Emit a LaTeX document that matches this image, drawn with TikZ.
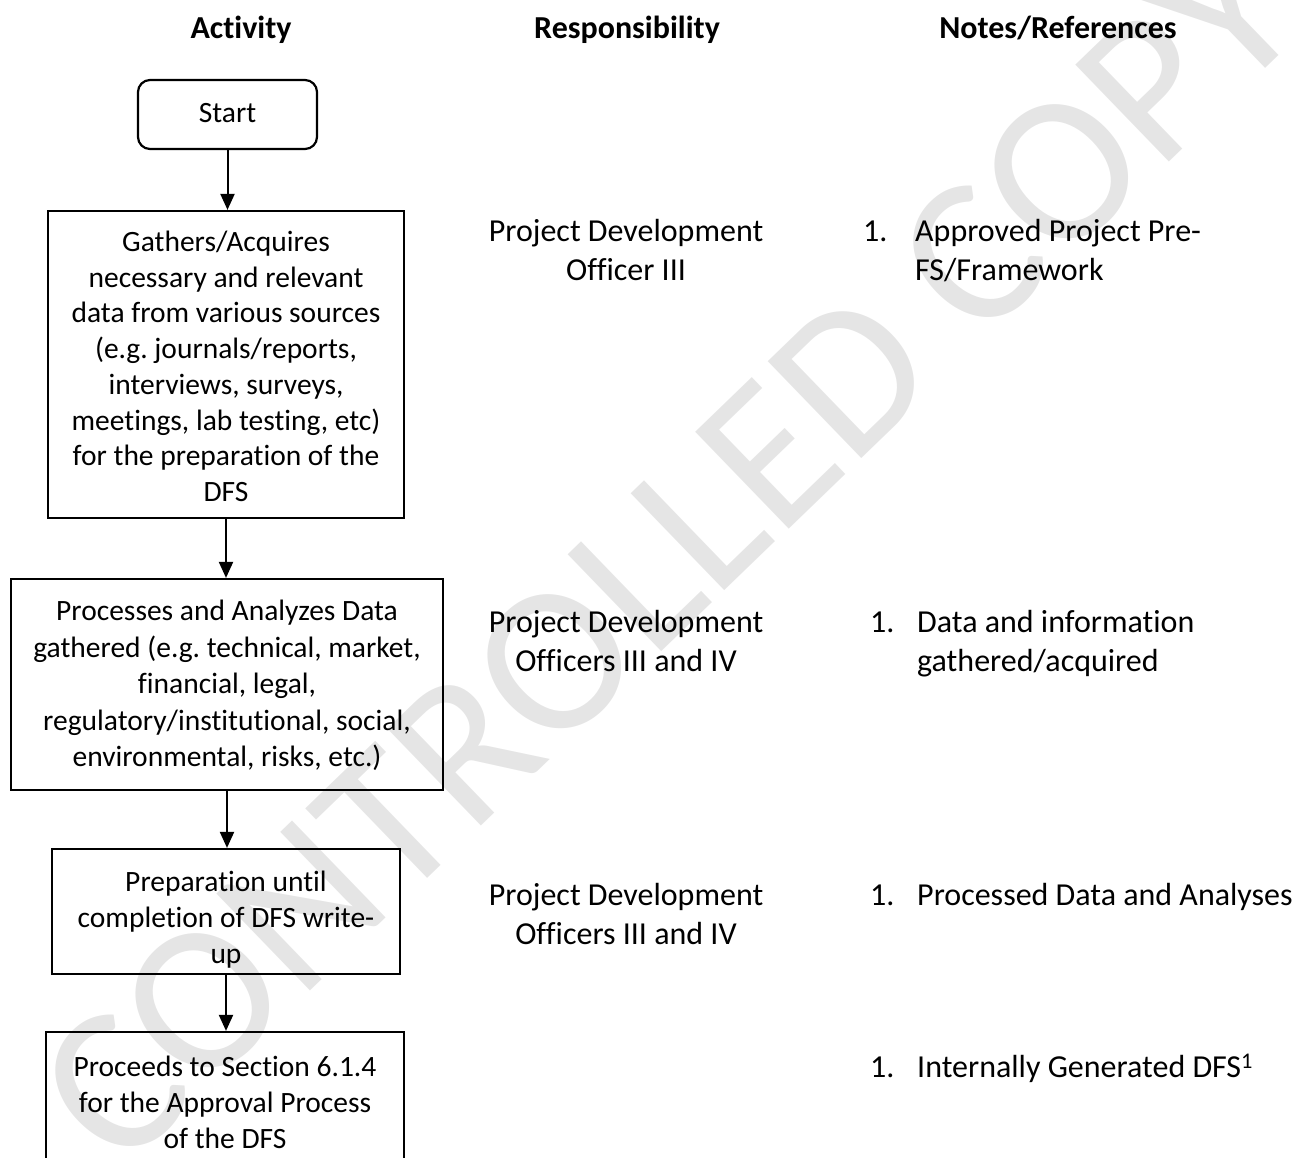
\documentclass[tikz,border=0pt]{standalone}
\usepackage{fontspec}
\setmainfont{Carlito}[Ligatures=NoCommon]
\usetikzlibrary{arrows.meta}
\newcommand\tstr{\rule{0pt}{30pt}}
\newcommand\bstr{\rule[-9.4pt]{0pt}{9.4pt}}
\newcommand\bt[1]{\rule{0pt}{#1pt}}
\newcommand\bb{\rule[-9.5pt]{0pt}{9.5pt}}
\frenchspacing
\begin{document}
\frenchspacing
\begin{tikzpicture}[x=1pt,y=-1pt,
  box/.style={draw, line width=2.2pt, inner sep=0pt, align=center},
  rtxt/.style={font=\fontsize{32}{39}\selectfont, inner sep=0pt},
  hdr/.style={font=\fontsize{32}{38}\selectfont\bfseries, inner sep=0pt, anchor=base},
  conn/.style={line width=2pt, -{Triangle[length=16pt,width=14pt]}},
  wm/.style={font=\fontsize{210}{210}\selectfont, text=black!10, rotate=44, inner sep=0pt}
]
\useasboundingbox (0,0) rectangle (1298,1157);
% watermark
\node[wm] (wm) at (668,552) {CONTROLLED COPY};
% headers
\node[hdr] (h1) at (241,38) {Activity};
\node[hdr] (h2) at (627,38) {Responsibility};
\node[hdr] (h3) at (1058,38) {Notes/References};
% activity boxes
\node[box, rounded corners=12pt, minimum width=179pt, minimum height=69pt,
  font=\fontsize{29.5}{36}\selectfont] (start) at (227.5,114.5) {\bt{25.5}Start\bb};
\node[box, minimum width=356pt, minimum height=307pt,
  font=\fontsize{29.5}{35.7}\selectfont] (b1) at (226,364.5)
  {\bt{33.5}Gathers/Acquires\\ necessary and relevant\\ data from various sources\\ (e.g. journals/reports,\\ interviews, surveys,\\ meetings, lab testing, etc)\\ for the preparation of the\\ DFS\bb};
\node[box, minimum width=432pt, minimum height=211pt,
  font=\fontsize{29.5}{36.5}\selectfont] (b2) at (227,684.5)
  {\bt{27.5}Processes and Analyzes Data\\ gathered (e.g. technical, market,\\ financial, legal,\\ regulatory/institutional, social,\\ environmental, risks, etc.)\bb};
\node[box, minimum width=348pt, minimum height=125pt,
  font=\fontsize{29.5}{36}\selectfont] (b3) at (226,911.5)
  {\bt{41.5}Preparation until\\ completion of DFS write-\\ up\bb};
\node[box, minimum width=358pt, minimum height=142pt,
  font=\fontsize{29.5}{36}\selectfont] (b4) at (225,1103)
  {\bt{28.5}Proceeds to Section 6.1.4\\ for the Approval Process\\ of the DFS\bb};
% connectors
\draw[conn] (start.south) -- (start.south |- b1.north);
\draw[conn] (b1.south) -- (b1.south |- b2.north);
\draw[conn] (b2.south) -- (b2.south |- b3.north);
\draw[conn] (b3.south) -- (b3.south |- b4.north);
% responsibility
\node[rtxt, align=center] (r1) at (626,251) {\tstr Project Development\\ Officer III\bstr};
\node[rtxt, align=center] (r2) at (626,641.5) {\tstr Project Development\\ Officers III and IV\bstr};
\node[rtxt, align=center] (r3) at (626,914.5) {\tstr Project Development\\ Officers III and IV\bstr};
% notes
\node[rtxt, anchor=west] (n1num) at (863,231.5) {\tstr 1.\bstr};
\node[rtxt, anchor=west, align=left] (n1) at (915,251) {\tstr Approved Project Pre-\\ FS/Framework\bstr};
\node[rtxt, anchor=west] (n2num) at (870,622) {\tstr 1.\bstr};
\node[rtxt, anchor=west, align=left] (n2) at (917,641.5) {\tstr Data and information\\ gathered/acquired\bstr};
\node[rtxt, anchor=west] (n3num) at (870,895) {\tstr 1.\bstr};
\node[rtxt, anchor=west] (n3) at (917,895) {\tstr Processed Data and Analyses\bstr};
\node[rtxt, anchor=west] (n4num) at (870,1067) {\tstr 1.\bstr};
\node[rtxt, anchor=west] (n4) at (917,1067) {\tstr Internally Generated DFS\textsuperscript{1}\bstr};
\end{tikzpicture}
\end{document}
